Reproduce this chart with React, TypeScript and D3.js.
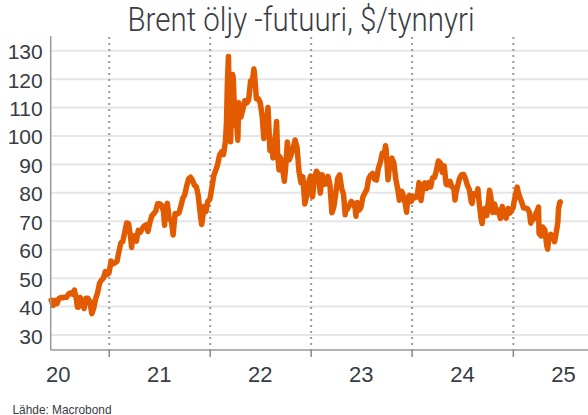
import React from "react";
import * as d3 from "d3";

const title = "Brent öljy -futuuri, $/tynnyri";
const source = "Lähde: Macrobond";
const yTicks = [30, 40, 50, 60, 70, 80, 90, 100, 110, 120, 130];
const yearBoundaries = [2021, 2022, 2023, 2024, 2025];
const yearLabels = ["20", "21", "22", "23", "24", "25"];

const dates = [
  "2020-06-05","2020-06-12","2020-06-19","2020-06-26","2020-07-03","2020-07-10","2020-07-17","2020-07-24","2020-07-31","2020-08-07","2020-08-14","2020-08-21","2020-08-28","2020-09-04","2020-09-08","2020-09-11","2020-09-18","2020-09-25","2020-10-02","2020-10-09","2020-10-16","2020-10-23","2020-10-30","2020-11-06","2020-11-13","2020-11-20","2020-11-27","2020-12-04","2020-12-11","2020-12-18","2020-12-24","2020-12-31",
  "2021-01-08","2021-01-15","2021-01-22","2021-01-29","2021-02-05","2021-02-12","2021-02-19","2021-02-26","2021-03-05","2021-03-12","2021-03-19","2021-03-23","2021-03-26","2021-04-01","2021-04-09","2021-04-16","2021-04-23","2021-04-30","2021-05-07","2021-05-14","2021-05-21","2021-05-28","2021-06-04","2021-06-11","2021-06-18","2021-06-25","2021-07-02","2021-07-09","2021-07-16","2021-07-20","2021-07-23","2021-07-30","2021-08-06","2021-08-13","2021-08-20","2021-08-27","2021-09-03","2021-09-10","2021-09-17","2021-09-24","2021-10-01","2021-10-08","2021-10-15","2021-10-22","2021-10-29","2021-11-05","2021-11-12","2021-11-19","2021-11-26","2021-12-01","2021-12-03","2021-12-10","2021-12-17","2021-12-23","2021-12-31",
  "2022-01-07","2022-01-14","2022-01-21","2022-01-28","2022-02-04","2022-02-11","2022-02-18","2022-02-25","2022-03-01","2022-03-04","2022-03-08","2022-03-11","2022-03-16","2022-03-18","2022-03-23","2022-03-25","2022-04-01","2022-04-08","2022-04-11","2022-04-14","2022-04-22","2022-04-29","2022-05-06","2022-05-13","2022-05-20","2022-05-27","2022-06-03","2022-06-08","2022-06-10","2022-06-17","2022-06-24","2022-07-01","2022-07-08","2022-07-14","2022-07-15","2022-07-22","2022-07-29","2022-08-05","2022-08-12","2022-08-16","2022-08-19","2022-08-26","2022-08-29","2022-09-02","2022-09-07","2022-09-09","2022-09-16","2022-09-23","2022-09-26","2022-09-30","2022-10-07","2022-10-14","2022-10-21","2022-10-28","2022-11-04","2022-11-11","2022-11-18","2022-11-25","2022-12-02","2022-12-09","2022-12-16","2022-12-23","2022-12-30",
  "2023-01-06","2023-01-13","2023-01-20","2023-01-27","2023-02-03","2023-02-10","2023-02-17","2023-02-24","2023-03-03","2023-03-10","2023-03-17","2023-03-20","2023-03-24","2023-03-31","2023-04-07","2023-04-14","2023-04-21","2023-04-28","2023-05-04","2023-05-05","2023-05-12","2023-05-19","2023-05-26","2023-06-02","2023-06-09","2023-06-12","2023-06-16","2023-06-23","2023-06-30","2023-07-07","2023-07-14","2023-07-21","2023-07-28","2023-08-04","2023-08-11","2023-08-18","2023-08-25","2023-09-01","2023-09-08","2023-09-15","2023-09-22","2023-09-27","2023-09-29","2023-10-06","2023-10-13","2023-10-20","2023-10-27","2023-11-03","2023-11-10","2023-11-16","2023-11-17","2023-11-24","2023-12-01","2023-12-08","2023-12-12","2023-12-15","2023-12-22","2023-12-29",
  "2024-01-05","2024-01-12","2024-01-19","2024-01-26","2024-02-02","2024-02-09","2024-02-16","2024-02-23","2024-03-01","2024-03-08","2024-03-15","2024-03-22","2024-03-28","2024-04-05","2024-04-12","2024-04-19","2024-04-26","2024-05-03","2024-05-10","2024-05-17","2024-05-24","2024-05-31","2024-06-04","2024-06-07","2024-06-14","2024-06-21","2024-06-28","2024-07-05","2024-07-12","2024-07-19","2024-07-26","2024-08-02","2024-08-05","2024-08-09","2024-08-16","2024-08-23","2024-08-26","2024-08-30","2024-09-06","2024-09-10","2024-09-13","2024-09-20","2024-09-27","2024-10-04","2024-10-07","2024-10-11","2024-10-18","2024-10-25","2024-11-01","2024-11-08","2024-11-15","2024-11-22","2024-11-29","2024-12-06","2024-12-13","2024-12-20","2024-12-27","2024-12-31",
  "2025-01-03","2025-01-10","2025-01-15","2025-01-17","2025-01-24","2025-01-31","2025-02-07","2025-02-14","2025-02-21","2025-02-28","2025-03-05","2025-03-07","2025-03-14","2025-03-21","2025-03-28","2025-04-02","2025-04-04","2025-04-09","2025-04-11","2025-04-17","2025-04-25","2025-05-02","2025-05-05","2025-05-09","2025-05-16","2025-05-23","2025-05-30","2025-06-06","2025-06-11","2025-06-13","2025-06-18","2025-06-20"
];

const prices = [
  42.3,40.4,42.2,41.0,42.8,43.2,43.1,43.3,43.3,44.4,44.8,44.4,45.8,42.7,39.8,39.8,43.2,41.9,39.3,42.9,42.9,41.8,37.5,39.5,42.8,44.9,48.2,49.3,50.0,52.3,51.3,51.8,
  56.0,55.1,55.4,55.9,59.3,62.4,62.9,66.1,69.4,69.2,64.5,60.8,64.6,64.9,63.0,66.8,66.1,67.3,68.3,68.7,66.4,69.6,71.9,72.7,73.5,76.2,76.2,75.6,73.6,68.6,74.1,76.3,70.7,70.6,65.2,72.7,72.6,72.9,75.3,78.1,79.3,82.4,84.9,85.5,84.4,82.7,82.2,78.9,72.7,68.9,69.9,75.2,73.5,76.9,77.8,
  81.8,86.1,87.9,90.0,93.3,94.4,93.5,97.9,104.9,118.1,128.0,112.7,98.0,107.9,121.6,120.7,104.4,102.8,98.5,111.7,106.7,109.3,112.4,111.6,112.6,119.4,119.7,123.6,122.0,113.1,113.1,111.6,107.0,99.1,101.2,103.2,110.0,94.9,98.2,92.3,96.7,101.0,105.1,93.0,88.0,92.8,91.4,86.2,84.1,88.0,97.9,91.6,93.5,95.8,98.6,96.0,87.6,83.6,85.6,76.1,79.0,83.9,85.9,
  78.6,85.3,87.6,86.7,79.9,86.4,83.0,83.2,85.8,82.8,73.0,73.8,75.0,79.8,85.1,86.3,81.7,79.5,72.3,75.3,74.2,75.6,77.0,76.1,74.8,71.8,76.6,73.9,74.9,78.5,79.9,81.1,85.0,86.2,86.8,84.8,84.5,88.6,90.7,93.9,93.3,96.6,95.3,84.6,90.9,92.2,90.5,84.9,81.4,77.4,80.6,80.6,78.9,75.8,73.2,76.6,79.1,77.0,
  78.8,78.3,78.6,83.6,77.3,82.2,83.5,81.6,83.6,82.1,85.3,85.4,87.5,91.2,90.5,87.3,89.5,83.0,82.8,84.0,82.1,81.6,77.5,79.6,82.6,85.2,86.4,86.5,85.0,82.6,81.1,76.8,76.3,79.7,79.7,79.0,81.4,76.9,71.1,69.2,71.6,74.5,72.0,78.1,80.9,79.0,73.1,76.1,73.1,73.9,71.0,75.2,71.8,71.1,74.5,72.9,74.2,74.6,
  76.5,79.8,82.0,80.8,78.5,76.8,74.7,74.7,74.4,73.2,69.3,70.4,70.6,72.2,73.6,75.0,65.6,65.5,64.8,68.0,66.9,61.3,60.2,63.9,65.4,64.8,62.8,66.5,69.8,74.2,76.7,76.8
];

const W = 588;
const H = 415;
const parse = d3.timeParse("%Y-%m-%d");
const series = dates.map((d, i) => ({ date: parse(d) as Date, value: prices[i] }));

export default function App() {
  const x = d3
    .scaleTime()
    .domain([new Date(2020, 0, 1), new Date(2026, 0, 1)])
    .range([8, 614.3]);
  const y = d3.scaleLinear().domain([30, 130]).range([335, 50.7]);
  const left = 50.7;
  const right = W;
  const top = 36;
  const bottom = 350;

  const line = d3
    .line<{ date: Date; value: number }>()
    .x((d) => x(d.date))
    .y((d) => y(d.value))
    .curve(d3.curveLinear);

  const textColor = "#383c44";
  const font = "'Liberation Sans', Arial, sans-serif";

  return (
    <svg
      width={W}
      height={H}
      style={{ position: "absolute", left: 0, top: 0, background: "#fff" }}
    >
      <rect x={0} y={0} width={W} height={H} fill="#fff" />
      <text
        x={301}
        y={31}
        textAnchor="middle"
        fontFamily="Roboto, sans-serif"
        fontWeight={300}
        fontSize={33}
        fill="#3a3d44"
        textLength={347}
        lengthAdjust="spacingAndGlyphs"
      >
        {title}
      </text>

      {yTicks.map((t) => (
        <line
          key={"g" + t}
          x1={left}
          x2={right}
          y1={y(t)}
          y2={y(t)}
          stroke="#e6e6e6"
          strokeWidth={2}
        />
      ))}

      {yearBoundaries.map((yr) => {
        const xx = x(new Date(yr, 0, 1));
        return (
          <line
            key={"v" + yr}
            x1={xx}
            x2={xx}
            y1={top + 1}
            y2={bottom}
            stroke="#9a9a9a"
            strokeWidth={2}
            strokeDasharray="2 4"
          />
        );
      })}

      <path
        d={line(series) || ""}
        fill="none"
        stroke="#e35b00"
        strokeWidth={5.5}
        strokeLinejoin="round"
        strokeLinecap="round"
      />

      <line x1={left} x2={left} y1={top} y2={bottom} stroke="#999" strokeWidth={1.5} />
      <line x1={left} x2={right} y1={bottom} y2={bottom} stroke="#999" strokeWidth={1.5} />
      {yearBoundaries.map((yr) => {
        const xx = x(new Date(yr, 0, 1));
        return (
          <line
            key={"t" + yr}
            x1={xx}
            x2={xx}
            y1={bottom}
            y2={bottom + 7}
            stroke="#888"
            strokeWidth={1.5}
          />
        );
      })}

      {yTicks.map((t) => (
        <text
          key={"yl" + t}
          x={42.7}
          y={y(t) + 8.5}
          textAnchor="end"
          fontFamily={font}
          fontSize={21}
          fill={textColor}
        >
          {t}
        </text>
      ))}

      {yearLabels.map((lab, i) => (
        <text
          key={"xl" + lab}
          x={x(new Date(2020 + i, 6, 1))}
          y={381.5}
          textAnchor="middle"
          fontFamily={font}
          fontSize={22}
          fill={textColor}
        >
          {lab}
        </text>
      ))}

      <text
        x={12.5}
        y={413.5}
        fontFamily={font}
        fontSize={13.5}
        fill={textColor}
        textLength={99}
        lengthAdjust="spacingAndGlyphs"
      >
        {source}
      </text>
    </svg>
  );
}
